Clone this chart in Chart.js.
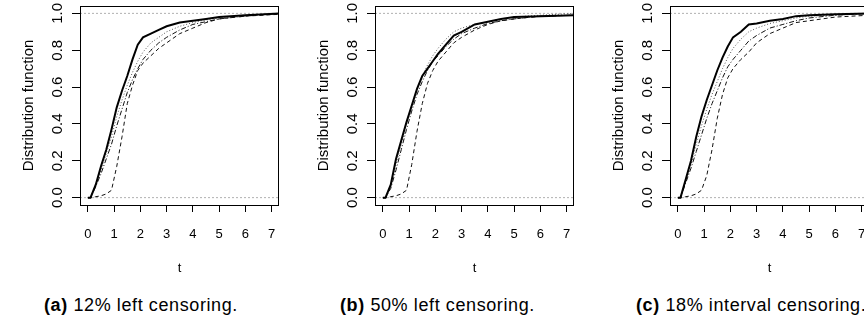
<!DOCTYPE html>
<html>
<head>
<meta charset="utf-8">
<script src="https://cdn.jsdelivr.net/npm/chart.js@4"></script>
<style>
  html, body { margin:0; padding:0; background:#fff; }
  #wrap { position:relative; width:864px; height:324px; overflow:hidden; }
  .panel { position:absolute; top:0; width:295px; height:285px; }
  .cap { position:absolute; top:294px; font-family:"Liberation Sans", Arial, sans-serif; font-size:18px; line-height:22px; letter-spacing:0.6px; color:#000; white-space:nowrap; }
  .cap b { font-weight:bold; }
</style>
</head>
<body>
<div id="wrap">
  <div class="panel" style="left:0px"><canvas id="c0" width="295" height="285"></canvas></div>
  <div class="panel" style="left:295px"><canvas id="c1" width="295" height="285"></canvas></div>
  <div class="panel" style="left:590px"><canvas id="c2" width="295" height="285"></canvas></div>
  <div class="cap" style="left:44px"><b>(a)</b> 12% left censoring.</div>
  <div class="cap" style="left:340px"><b>(b)</b> 50% left censoring.</div>
  <div class="cap" style="left:636px"><b>(c)</b> 18% interval censoring.</div>
</div>
<script>
// ---------- data ----------
const tGrid = [0, 0.1, 0.3, 0.5, 0.7, 0.9, 1.1, 1.3, 1.5, 1.7, 1.9, 2.1, 2.4, 2.7, 3.0, 3.5, 4.0, 4.5, 5.0, 6.0, 7.3];

const xTicks = [0, 1, 2, 3, 4, 5, 6, 7];
const yTicks = [0, 0.2, 0.4, 0.6, 0.8, 1.0];
const yTickLabels = ['0.0', '0.2', '0.4', '0.6', '0.8', '1.0'];
const refLevels = [0, 1];
const xLimits = [-0.3, 7.28];
const yLimits = [-0.04, 1.04];

// panel (a) 12% left censoring
const aSolid   = [0, 0, 0.07, 0.17, 0.26, 0.37, 0.49, 0.58, 0.66, 0.75, 0.83, 0.87, 0.89, 0.91, 0.93, 0.95, 0.96, 0.97, 0.98, 0.99, 1.0];
const aDotted  = [0, 0, 0.07, 0.15, 0.24, 0.33, 0.44, 0.53, 0.61, 0.68, 0.74, 0.79, 0.84, 0.87, 0.90, 0.93, 0.95, 0.965, 0.975, 0.99, 1.0];
const aDashDot = [0, 0, 0.06, 0.13, 0.21, 0.29, 0.39, 0.48, 0.57, 0.64, 0.70, 0.75, 0.80, 0.84, 0.87, 0.91, 0.94, 0.955, 0.97, 0.985, 1.0];
const aDashed  = [0, 0, 0.005, 0.01, 0.02, 0.04, 0.17, 0.33, 0.51, 0.61, 0.69, 0.73, 0.77, 0.81, 0.84, 0.89, 0.92, 0.95, 0.97, 0.985, 0.995];

// panel (b) 50% left censoring
const bSolid   = [0, 0, 0.07, 0.21, 0.31, 0.41, 0.50, 0.59, 0.66, 0.70, 0.74, 0.78, 0.83, 0.88, 0.90, 0.94, 0.955, 0.97, 0.98, 0.985, 0.99];
const bDotted  = [0, 0, 0.06, 0.18, 0.29, 0.40, 0.50, 0.59, 0.66, 0.72, 0.77, 0.81, 0.86, 0.90, 0.92, 0.94, 0.955, 0.97, 0.98, 0.99, 1.0];
const bDashDot = [0, 0, 0.05, 0.15, 0.26, 0.37, 0.47, 0.56, 0.63, 0.69, 0.74, 0.77, 0.82, 0.86, 0.89, 0.92, 0.945, 0.96, 0.97, 0.985, 0.99];
const bDashed  = [0, 0, 0.005, 0.01, 0.02, 0.04, 0.18, 0.36, 0.51, 0.62, 0.69, 0.74, 0.79, 0.84, 0.87, 0.91, 0.94, 0.96, 0.97, 0.985, 0.99];

// panel (c) 18% interval censoring
const cSolid   = [0, 0, 0.10, 0.20, 0.33, 0.44, 0.53, 0.61, 0.69, 0.76, 0.82, 0.87, 0.90, 0.94, 0.945, 0.96, 0.97, 0.985, 0.99, 0.995, 1.0];
const cDotted  = [0, 0, 0.09, 0.18, 0.29, 0.39, 0.48, 0.56, 0.63, 0.70, 0.76, 0.81, 0.86, 0.90, 0.92, 0.945, 0.96, 0.975, 0.985, 0.99, 1.0];
const cDashDot = [0, 0, 0.08, 0.16, 0.25, 0.34, 0.43, 0.51, 0.58, 0.65, 0.71, 0.75, 0.80, 0.85, 0.88, 0.92, 0.94, 0.96, 0.975, 0.99, 1.0];
const cDashed  = [0, 0, 0.005, 0.01, 0.02, 0.04, 0.12, 0.26, 0.43, 0.56, 0.65, 0.70, 0.75, 0.79, 0.84, 0.89, 0.92, 0.95, 0.96, 0.98, 0.99];

// ---------- styles ----------
const FONT = '"Liberation Sans", Arial, sans-serif';
const styles = {
  solid:   { borderColor: '#000', borderWidth: 2,   borderDash: [] },
  dotted:  { borderColor: '#555', borderWidth: 1,   borderDash: [1, 2] },
  dashdot: { borderColor: '#111', borderWidth: 1,   borderDash: [5, 2, 1, 2] },
  dashed:  { borderColor: '#111', borderWidth: 1,   borderDash: [4, 3] }
};

function pts(vals) { return tGrid.map((t, i) => ({ x: t, y: vals[i] })); }

const boxAndLabels = {
  id: 'boxAndLabels',
  afterDraw(chart) {
    const { ctx, chartArea: a, scales: { y } } = chart;
    ctx.save();
    ctx.strokeStyle = '#000';
    ctx.lineWidth = 1;
    ctx.strokeRect(Math.round(a.left) + 0.5, Math.round(a.top) + 0.5,
                   Math.round(a.right - a.left) - 1, Math.round(a.bottom - a.top));
    ctx.fillStyle = '#000';
    ctx.font = '15px ' + FONT;
    ctx.textAlign = 'center';
    ctx.textBaseline = 'middle';
    yTicks.forEach((v, i) => {
      const py = y.getPixelForValue(v);
      ctx.save();
      ctx.translate(a.left - 22, py);
      ctx.rotate(-Math.PI / 2);
      ctx.fillText(yTickLabels[i], 0, 0);
      ctx.restore();
    });
    ctx.restore();
  }
};

function makeChart(id, s) {
  const refSets = refLevels.map(lv => ({
    data: xLimits.map(x => ({ x: x, y: lv })),
    borderColor: '#b0b0b0', borderWidth: 1, borderDash: [2, 2],
    pointRadius: 0, tension: 0
  }));
  const series = [
    Object.assign({ data: pts(s[0]) }, styles.solid),
    Object.assign({ data: pts(s[1]) }, styles.dotted),
    Object.assign({ data: pts(s[2]) }, styles.dashdot),
    Object.assign({ data: pts(s[3]) }, styles.dashed)
  ].map(d => Object.assign(d, { pointRadius: 0, tension: 0 }));

  new Chart(document.getElementById(id), {
    type: 'line',
    data: { datasets: series.concat(refSets) },
    options: {
      responsive: false, animation: false, devicePixelRatio: 1,
      layout: { padding: { left: 0, top: 6, right: 16, bottom: 0 } },
      plugins: { legend: { display: false }, tooltip: { enabled: false } },
      scales: {
        x: {
          type: 'linear', min: xLimits[0], max: xLimits[1],
          afterBuildTicks: sc => { sc.ticks = xTicks.map(v => ({ value: v })); },
          afterFit: sc => { sc.height = 80; },
          ticks: { color: '#000', font: { family: FONT, size: 13 }, padding: 15, maxRotation: 0, autoSkip: false,
                   callback: v => String(v) },
          grid: { display: true, drawOnChartArea: false, drawTicks: true, tickLength: 7, color: '#000', lineWidth: 1 },
          border: { display: false },
          title: { display: true, text: 't', color: '#000', font: { family: FONT, size: 13 }, padding: { top: 0, bottom: 9 } }
        },
        y: {
          type: 'linear', min: yLimits[0], max: yLimits[1],
          afterBuildTicks: sc => { sc.ticks = yTicks.map(v => ({ value: v })); },
          afterFit: sc => { sc.width = 80; },
          ticks: { display: false },
          grid: { display: true, drawOnChartArea: false, drawTicks: true, tickLength: 8, color: '#000', lineWidth: 1 },
          border: { display: false },
          title: { display: true, text: 'Distribution function', color: '#000', font: { family: FONT, size: 15 }, padding: { top: 20, bottom: 0 } }
        }
      }
    },
    plugins: [boxAndLabels]
  });
}

makeChart('c0', [aSolid, aDotted, aDashDot, aDashed]);
makeChart('c1', [bSolid, bDotted, bDashDot, bDashed]);
makeChart('c2', [cSolid, cDotted, cDashDot, cDashed]);
</script>
</body>
</html>
